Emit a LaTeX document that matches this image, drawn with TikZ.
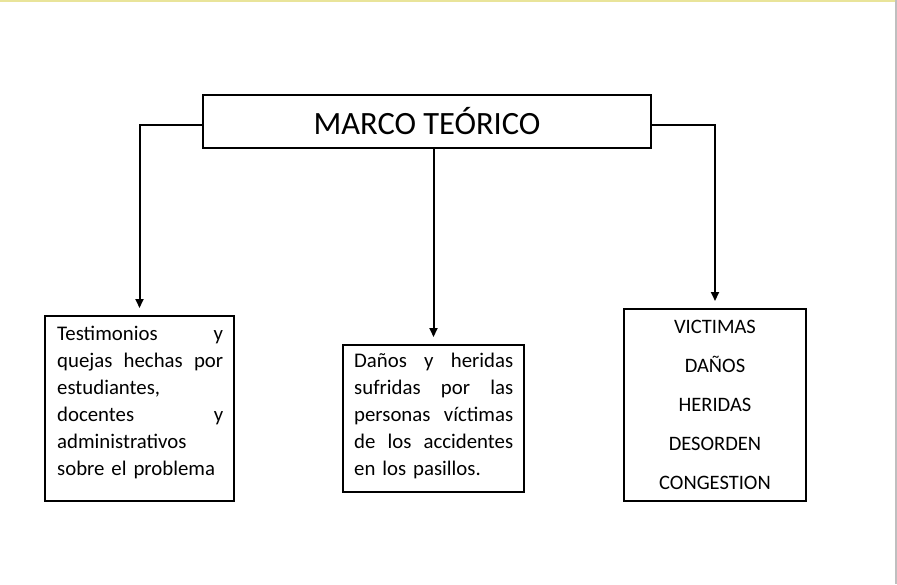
\documentclass[tikz,border=0pt]{standalone}
\usepackage{fontspec}
\setmainfont{Carlito}
\usetikzlibrary{arrows.meta,positioning}
\definecolor{pagetop}{HTML}{E9E49A}
\definecolor{pageside}{HTML}{BFBFBF}

\begin{document}
\begin{tikzpicture}[
  x=1pt, y=-1pt,
  frame/.style={draw, line width=1.1pt, inner sep=0pt, outer sep=0pt},
  body/.style={inner sep=0pt, align=left, font=\fontsize{20.8}{27}\selectfont},
  link/.style={line width=2pt, -{Triangle[length=9pt,width=8pt]}, shorten >=8pt}
]
\useasboundingbox (0,0) rectangle (897,584);

% page edges
\draw[pagetop, line width=2.5pt] (0,1.2) -- (895,1.2);
\draw[pageside, line width=1.5pt] (896,0) -- (896,584);

\node[frame, minimum width=448pt, minimum height=53pt, font=\fontsize{32.5}{38}\selectfont] (marco) at (427,121.5) {MARCO TEÓRICO};

\node[frame, minimum width=189pt, minimum height=185pt] (test) at (139.5,408.5) {};
\node[frame, minimum width=181pt, minimum height=147pt] (danos) at (433.5,418.5) {};
\node[frame, minimum width=182pt, minimum height=192pt] (vict) at (715,405) {};

\node[body, text width=166pt, anchor=base west] (testtxt) at (57,340)
  {Testimonios\hfill y\\ quejas\hfill hechas\hfill por\\ estudiantes,\\ docentes\hfill y\\ administrativos\\ sobre el problema};
\node[body, text width=159pt, anchor=base west] (danostxt) at (354,367)
  {Daños\hfill y\hfill heridas\\ sufridas\hfill por\hfill las\\ personas\hfill víctimas\\ de\hfill los\hfill accidentes\\ en los pasillos.};
\node[body, text width=170pt, align=center, font=\fontsize{20.5}{39}\selectfont, anchor=base] (victtxt) at (715,333.5)
  {VICTIMAS\\ DAÑOS\\ HERIDAS\\ DESORDEN\\ CONGESTION};

\draw[link] ([yshift=-3pt]marco.west) -| (test.north);
\draw[link] (marco.south -| danos.north) -- (danos.north);
\draw[link] ([yshift=-3pt]marco.east) -| (vict.north);

\end{tikzpicture}
\end{document}
